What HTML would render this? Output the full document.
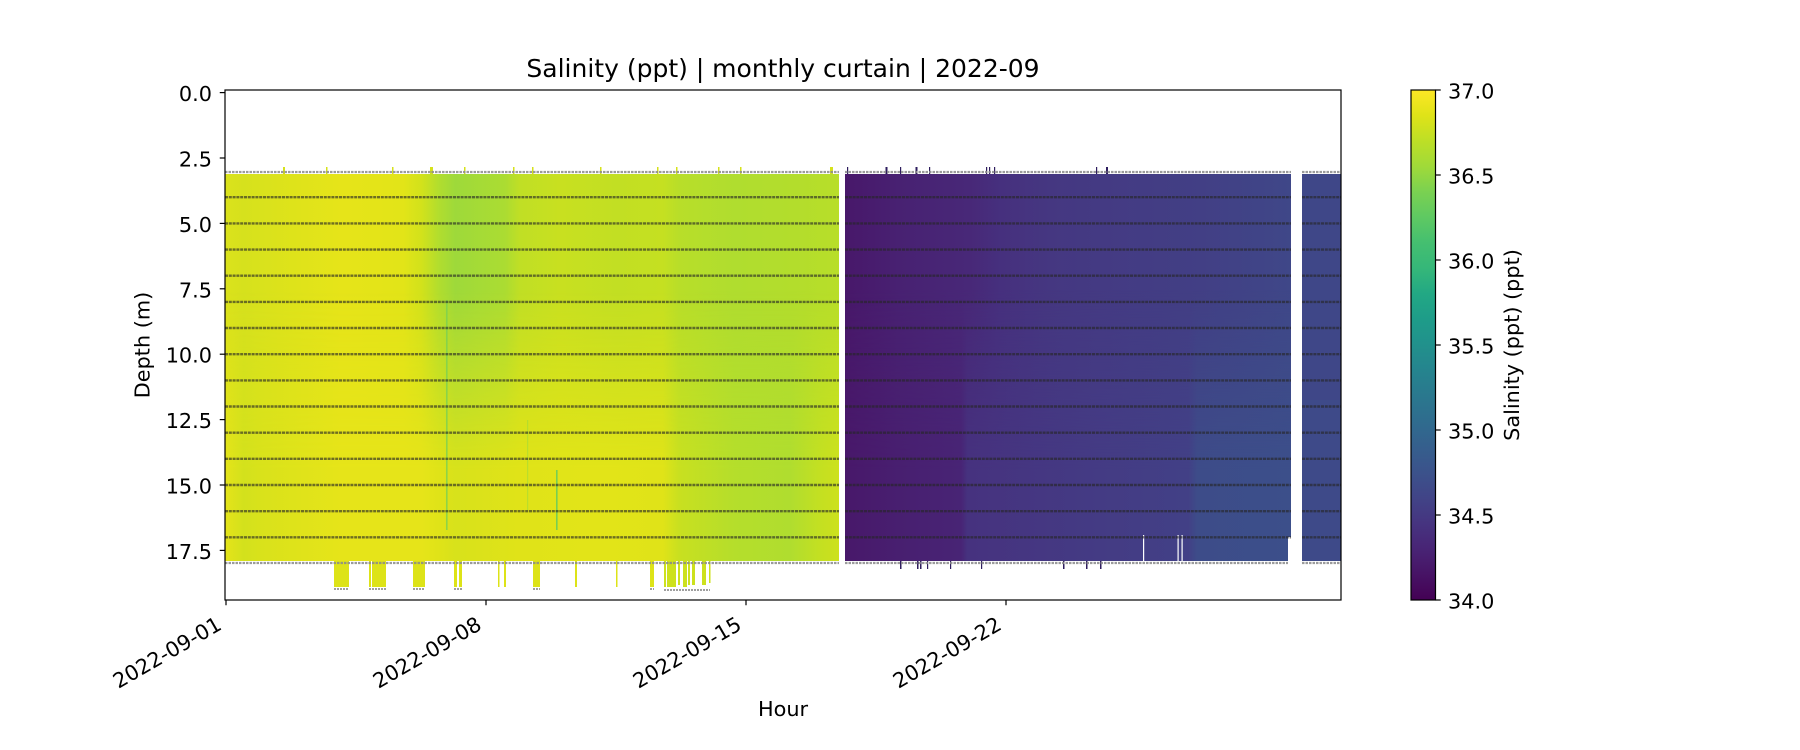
<!DOCTYPE html>
<html><head><meta charset="utf-8"><style>
html,body{margin:0;padding:0;background:#fff;}
svg{display:block;}
text{font-family:"DejaVu Sans","Liberation Sans",sans-serif;fill:#000;}
</style></head><body>
<svg width="1800" height="750" viewBox="0 0 1800 750" xmlns="http://www.w3.org/2000/svg">
<defs>
<linearGradient id="yTop" gradientUnits="userSpaceOnUse" x1="225" y1="0" x2="839" y2="0">
<stop offset="0" stop-color="#dbe21b"/>
<stop offset="0.03" stop-color="#d6e11d"/>
<stop offset="0.06" stop-color="#d9e21c"/>
<stop offset="0.12" stop-color="#dfe31a"/>
<stop offset="0.19" stop-color="#e6e419"/>
<stop offset="0.29" stop-color="#e2e418"/>
<stop offset="0.32" stop-color="#d2e21b"/>
<stop offset="0.35" stop-color="#b0dd2f"/>
<stop offset="0.375" stop-color="#9ed93a"/>
<stop offset="0.415" stop-color="#a5db36"/>
<stop offset="0.456" stop-color="#abdc32"/>
<stop offset="0.48" stop-color="#c0df25"/>
<stop offset="0.545" stop-color="#c8e020"/>
<stop offset="0.64" stop-color="#c2df23"/>
<stop offset="0.713" stop-color="#c5e021"/>
<stop offset="0.74" stop-color="#b8de29"/>
<stop offset="0.83" stop-color="#b0dd2f"/>
<stop offset="0.93" stop-color="#b3dd2c"/>
<stop offset="1" stop-color="#b8de29"/>
</linearGradient>
<linearGradient id="yBot" gradientUnits="userSpaceOnUse" x1="225" y1="0" x2="839" y2="0">
<stop offset="0" stop-color="#e5e419"/>
<stop offset="0.03" stop-color="#d3e11c"/>
<stop offset="0.06" stop-color="#d9e21b"/>
<stop offset="0.12" stop-color="#dfe31a"/>
<stop offset="0.19" stop-color="#e6e419"/>
<stop offset="0.32" stop-color="#e6e419"/>
<stop offset="0.35" stop-color="#dfe318"/>
<stop offset="0.375" stop-color="#d8e21b"/>
<stop offset="0.48" stop-color="#e0e318"/>
<stop offset="0.61" stop-color="#e2e418"/>
<stop offset="0.713" stop-color="#e0e318"/>
<stop offset="0.74" stop-color="#c8e020"/>
<stop offset="0.83" stop-color="#b5de2b"/>
<stop offset="0.92" stop-color="#b0dd2f"/>
<stop offset="0.97" stop-color="#c4e021"/>
<stop offset="1" stop-color="#cde11d"/>
</linearGradient>
<linearGradient id="pTop" gradientUnits="userSpaceOnUse" x1="845" y1="0" x2="1291" y2="0">
<stop offset="0" stop-color="#48186a"/>
<stop offset="0.06" stop-color="#481c6e"/>
<stop offset="0.12" stop-color="#482172"/>
<stop offset="0.28" stop-color="#482878"/>
<stop offset="0.35" stop-color="#46307e"/>
<stop offset="0.46" stop-color="#453781"/>
<stop offset="0.57" stop-color="#443a83"/>
<stop offset="0.80" stop-color="#423f85"/>
<stop offset="1" stop-color="#3f4788"/>
</linearGradient>
<linearGradient id="pBot" gradientUnits="userSpaceOnUse" x1="845" y1="0" x2="1291" y2="0">
<stop offset="0" stop-color="#48186a"/>
<stop offset="0.12" stop-color="#481f70"/>
<stop offset="0.26" stop-color="#482475"/>
<stop offset="0.275" stop-color="#46327f"/>
<stop offset="0.57" stop-color="#443b84"/>
<stop offset="0.77" stop-color="#424086"/>
<stop offset="0.79" stop-color="#3d4c89"/>
<stop offset="1" stop-color="#3c4f8a"/>
</linearGradient>
<linearGradient id="mg" gradientUnits="userSpaceOnUse" x1="0" y1="290" x2="0" y2="470">
<stop offset="0" stop-color="#fff" stop-opacity="0"/>
<stop offset="1" stop-color="#fff" stop-opacity="1"/>
</linearGradient>
<mask id="botMask" maskUnits="userSpaceOnUse" x="0" y="0" width="1800" height="750">
<rect x="0" y="0" width="1800" height="750" fill="url(#mg)"/>
</mask>
<linearGradient id="vir" x1="0" y1="1" x2="0" y2="0">
<stop offset="0" stop-color="#440154"/>
<stop offset="0.05" stop-color="#471365"/>
<stop offset="0.1" stop-color="#482475"/>
<stop offset="0.15" stop-color="#463480"/>
<stop offset="0.2" stop-color="#414487"/>
<stop offset="0.25" stop-color="#3b528b"/>
<stop offset="0.3" stop-color="#355f8d"/>
<stop offset="0.35" stop-color="#2f6c8e"/>
<stop offset="0.4" stop-color="#2a788e"/>
<stop offset="0.45" stop-color="#25848e"/>
<stop offset="0.5" stop-color="#21918c"/>
<stop offset="0.55" stop-color="#1e9c89"/>
<stop offset="0.6" stop-color="#22a884"/>
<stop offset="0.65" stop-color="#35b779"/>
<stop offset="0.7" stop-color="#44bf70"/>
<stop offset="0.75" stop-color="#5ec962"/>
<stop offset="0.8" stop-color="#7ad151"/>
<stop offset="0.85" stop-color="#a0da39"/>
<stop offset="0.9" stop-color="#bddf26"/>
<stop offset="0.95" stop-color="#dfe318"/>
<stop offset="1" stop-color="#fde725"/>
</linearGradient>
</defs>

<!-- yellow block -->
<rect x="225" y="174" width="614" height="387" fill="url(#yTop)"/>
<rect x="225" y="174" width="614" height="387" fill="url(#yBot)" mask="url(#botMask)"/>
<!-- streaks -->
<rect x="446" y="300" width="1.6" height="230" fill="#7ad151" opacity="0.8"/>
<rect x="556" y="470" width="1.6" height="60" fill="#5ec962" opacity="0.8"/>
<rect x="527" y="420" width="1.2" height="90" fill="#a0da39" opacity="0.6"/>

<!-- bottom yellow blocks -->
<g fill="#dde318">
<rect x="334" y="561" width="15" height="26"/>
<rect x="369" y="561" width="2" height="26"/>
<rect x="372" y="561" width="14" height="26"/>
<rect x="413" y="561" width="12" height="26"/>
<rect x="454" y="561" width="3" height="26"/>
<rect x="459" y="561" width="3" height="26"/>
<rect x="498" y="561" width="1.5" height="26"/>
<rect x="504" y="561" width="2" height="26"/>
<rect x="533" y="561" width="7" height="26"/>
<rect x="575" y="561" width="2" height="26"/>
<rect x="616" y="561" width="1.5" height="26"/>
<rect x="650" y="561" width="4" height="26"/>
</g>
<g fill="#cde11d">
<rect x="664" y="561" width="2" height="26"/>
<rect x="667" y="561" width="9" height="26"/>
<rect x="678" y="561" width="2" height="24"/>
<rect x="683" y="561" width="4" height="26"/>
<rect x="688" y="561" width="2" height="24"/>
<rect x="692" y="561" width="3" height="24"/>
<rect x="702" y="561" width="4" height="24"/>
<rect x="709" y="561" width="1.5" height="22"/>
</g>
<g stroke="#888" stroke-width="2" stroke-dasharray="2 1" opacity="0.8">
<line x1="334" y1="589" x2="349" y2="589"/>
<line x1="369" y1="589" x2="386" y2="589"/>
<line x1="413" y1="589" x2="425" y2="589"/>
<line x1="454" y1="589" x2="462" y2="589"/>
<line x1="533" y1="589" x2="540" y2="589"/>
<line x1="650" y1="589" x2="654" y2="589"/>
<line x1="664" y1="590" x2="710" y2="590"/>
</g>

<!-- top spikes yellow -->
<g fill="#d6e21b">
<rect x="283" y="167" width="2" height="7"/>
<rect x="326" y="167" width="1.5" height="7"/>
<rect x="392" y="167" width="1.5" height="7"/>
<rect x="430" y="167" width="3" height="7"/>
<rect x="464" y="167" width="1.5" height="7"/>
<rect x="513" y="167" width="1.5" height="7"/>
<rect x="532" y="167" width="1.5" height="7"/>
<rect x="600" y="167" width="1.5" height="7"/>
<rect x="657" y="167" width="1.5" height="7"/>
<rect x="676" y="167" width="1.5" height="7"/>
<rect x="718" y="167" width="1.5" height="7"/>
<rect x="740" y="167" width="1.5" height="7"/>
<rect x="830" y="167" width="3" height="7"/>
</g>

<!-- purple block -->
<rect x="845" y="174" width="446" height="363" fill="url(#pTop)"/>
<rect x="845" y="174" width="446" height="363" fill="url(#pBot)" mask="url(#botMask)"/>
<rect x="845" y="537" width="443" height="24" fill="url(#pBot)"/>
<rect x="1143" y="535" width="1.2" height="26" fill="#fff"/>
<rect x="1177.5" y="535" width="1.2" height="26" fill="#fff"/>
<rect x="1181.5" y="535" width="1.2" height="26" fill="#fff"/>
<!-- right segment -->
<rect x="1302" y="174" width="39" height="387" fill="#3f4788"/>
<rect x="1302" y="400" width="39" height="161" fill="#3e4a89"/>
<!-- purple spikes -->
<g fill="#2e1d5e">
<rect x="847" y="167" width="1.2" height="7"/>
<rect x="885.5" y="167" width="2" height="7"/>
<rect x="900" y="167" width="1.2" height="7"/>
<rect x="915.5" y="167" width="2" height="7"/>
<rect x="929" y="167" width="1.2" height="7"/>
<rect x="986" y="167" width="1.2" height="7"/>
<rect x="989" y="167" width="1.2" height="7"/>
<rect x="994" y="167" width="1.2" height="7"/>
<rect x="1096" y="167" width="1.2" height="7"/>
<rect x="1106" y="167" width="2" height="7"/>
<rect x="900" y="561" width="1.5" height="8"/>
<rect x="917" y="561" width="1.5" height="8"/>
<rect x="920" y="561" width="1.5" height="8"/>
<rect x="927" y="561" width="1.2" height="8"/>
<rect x="950" y="561" width="1.2" height="8"/>
<rect x="981" y="561" width="1.2" height="8"/>
<rect x="1063" y="561" width="1.5" height="8"/>
<rect x="1086" y="561" width="1.5" height="8"/>
<rect x="1100" y="561" width="1.5" height="8"/>
</g>

<!-- gray boundary lines (depth 3 and 18) -->
<g stroke="#8a8a8a" stroke-width="2.2" stroke-dasharray="2.5 1" opacity="0.85">
<line x1="225" y1="172" x2="839" y2="172"/>
<line x1="845" y1="172" x2="1291" y2="172"/>
<line x1="1302" y1="172" x2="1341" y2="172"/>
<line x1="225" y1="563" x2="839" y2="563"/>
<line x1="845" y1="563" x2="1288" y2="563"/>
<line x1="1302" y1="563" x2="1341" y2="563"/>
</g>

<!-- dark depth lines 4..17 -->
<g stroke="#262626" stroke-width="2.4" stroke-dasharray="3 0.8" opacity="0.62">
<path d="M225 197.2H839M845 197.2H1291M1302 197.2H1341
M225 223.4H839M845 223.4H1291M1302 223.4H1341
M225 249.6H839M845 249.6H1291M1302 249.6H1341
M225 275.7H839M845 275.7H1291M1302 275.7H1341
M225 301.9H839M845 301.9H1291M1302 301.9H1341
M225 328H839M845 328H1291M1302 328H1341
M225 354.2H839M845 354.2H1291M1302 354.2H1341
M225 380.4H839M845 380.4H1291M1302 380.4H1341
M225 406.5H839M845 406.5H1291M1302 406.5H1341
M225 432.7H839M845 432.7H1291M1302 432.7H1341
M225 458.8H839M845 458.8H1291M1302 458.8H1341
M225 485H839M845 485H1291M1302 485H1341
M225 511.2H839M845 511.2H1291M1302 511.2H1341
M225 537.3H839M845 537.3H1291M1302 537.3H1341"/>
</g>

<!-- axes frame -->
<rect x="225" y="90" width="1116" height="510" fill="none" stroke="#000" stroke-width="1.2"/>

<!-- ticks -->
<g stroke="#000" stroke-width="1.2">
<line x1="219.75" y1="92.6" x2="225" y2="92.6"/>
<line x1="219.75" y1="158" x2="225" y2="158"/>
<line x1="219.75" y1="223.4" x2="225" y2="223.4"/>
<line x1="219.75" y1="288.8" x2="225" y2="288.8"/>
<line x1="219.75" y1="354.2" x2="225" y2="354.2"/>
<line x1="219.75" y1="419.6" x2="225" y2="419.6"/>
<line x1="219.75" y1="485" x2="225" y2="485"/>
<line x1="219.75" y1="550.4" x2="225" y2="550.4"/>
<line x1="226" y1="600" x2="226" y2="605.25"/>
<line x1="486" y1="600" x2="486" y2="605.25"/>
<line x1="746" y1="600" x2="746" y2="605.25"/>
<line x1="1006" y1="600" x2="1006" y2="605.25"/>
</g>
<g font-size="20.8" text-anchor="end">
<text x="212" y="101.1">0.0</text>
<text x="212" y="166.5">2.5</text>
<text x="212" y="231.9">5.0</text>
<text x="212" y="297.3">7.5</text>
<text x="212" y="362.7">10.0</text>
<text x="212" y="428.1">12.5</text>
<text x="212" y="493.5">15.0</text>
<text x="212" y="558.9">17.5</text>
</g>
<g font-size="20.8" text-anchor="end">
<text transform="translate(223,628.5) rotate(-30)">2022-09-01</text>
<text transform="translate(483,628.5) rotate(-30)">2022-09-08</text>
<text transform="translate(743,628.5) rotate(-30)">2022-09-15</text>
<text transform="translate(1003,628.5) rotate(-30)">2022-09-22</text>
</g>
<text x="783" y="716" font-size="20.8" text-anchor="middle">Hour</text>
<text transform="translate(149.5,345) rotate(-90)" font-size="20.8" text-anchor="middle">Depth (m)</text>
<text x="783" y="77" font-size="25" text-anchor="middle">Salinity (ppt) | monthly curtain | 2022-09</text>

<!-- colorbar -->
<rect x="1411" y="90" width="24.5" height="510" fill="url(#vir)"/>
<rect x="1411" y="90" width="24.5" height="510" fill="none" stroke="#000" stroke-width="1.2"/>
<g stroke="#000" stroke-width="1.2">
<line x1="1435.5" y1="90" x2="1440.75" y2="90"/>
<line x1="1435.5" y1="175" x2="1440.75" y2="175"/>
<line x1="1435.5" y1="260" x2="1440.75" y2="260"/>
<line x1="1435.5" y1="345" x2="1440.75" y2="345"/>
<line x1="1435.5" y1="430" x2="1440.75" y2="430"/>
<line x1="1435.5" y1="515" x2="1440.75" y2="515"/>
<line x1="1435.5" y1="600" x2="1440.75" y2="600"/>
</g>
<g font-size="20.8">
<text x="1448" y="98.4">37.0</text>
<text x="1448" y="183.4">36.5</text>
<text x="1448" y="268.4">36.0</text>
<text x="1448" y="353.4">35.5</text>
<text x="1448" y="438.4">35.0</text>
<text x="1448" y="523.4">34.5</text>
<text x="1448" y="608.4">34.0</text>
</g>
<text transform="translate(1519,345) rotate(-90)" font-size="20.8" text-anchor="middle">Salinity (ppt) (ppt)</text>
</svg>
</body></html>
